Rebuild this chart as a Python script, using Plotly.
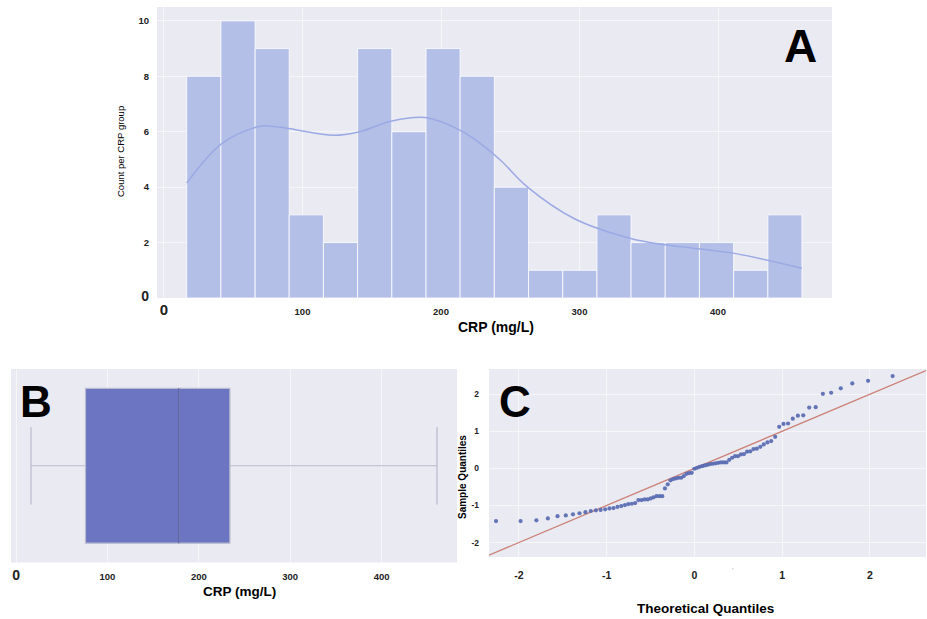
import plotly.graph_objects as go

# ---------------- data ----------------
# Panel A: histogram of CRP (mg/L)
bin_edges = [16.4, 41.1, 65.8, 90.4, 115.1, 139.8, 164.5, 189.2, 213.8, 238.5,
             263.2, 287.9, 312.6, 337.2, 361.9, 386.6, 411.3, 436.0, 460.6]
bin_counts = [8, 10, 9, 3, 2, 9, 6, 9, 8, 4, 1, 1, 3, 2, 2, 2, 1, 3]

# KDE curve
kde_x = [16.4, 41.7, 67.0, 75.4, 91.0, 122.4, 140.5, 164.6, 188.7, 214.0, 228.5,
         243.0, 262.3, 296.0, 337.0, 363.5, 411.7, 460.6]
kde_y = [4.15, 5.57, 6.17, 6.21, 6.11, 5.87, 5.99, 6.39, 6.51, 6.05, 5.57,
         4.97, 4.01, 2.87, 2.15, 1.91, 1.61, 1.07]

# Panel B: box plot statistics
box_min = 16.4
box_q1 = 76.0
box_median = 178.0
box_q3 = 234.0
box_max = 460.6

# Panel C: Q-Q plot
qq_theoretical = [
    -2.26, -1.98, -1.80, -1.669, -1.559, -1.465, -1.383, -1.309, -1.241, -1.180,
    -1.122, -1.068, -1.016, -0.967, -0.921, -0.876, -0.833, -0.791, -0.752, -0.712,
    -0.674, -0.637, -0.601, -0.566, -0.531, -0.497, -0.464, -0.431, -0.398, -0.366,
    -0.335, -0.303, -0.272, -0.241, -0.210, -0.180, -0.150, -0.120, -0.090, -0.060,
    -0.030, 0.0, 0.030, 0.060, 0.090, 0.120, 0.150, 0.180, 0.210, 0.241,
    0.272, 0.303, 0.335, 0.366, 0.398, 0.431, 0.464, 0.497, 0.531, 0.566,
    0.601, 0.637, 0.674, 0.712, 0.752, 0.791, 0.833, 0.876, 0.921, 0.967,
    1.016, 1.068, 1.122, 1.180, 1.241, 1.309, 1.383, 1.465, 1.559, 1.669,
    1.80, 1.98, 2.26]
qq_sample = [
    -1.42, -1.42, -1.40, -1.35, -1.29, -1.27, -1.24, -1.21,
    -1.18, -1.15, -1.13, -1.12, -1.105, -1.08, -1.07, -1.04, -1.016, -0.99,
    -0.962, -0.954, -0.935, -0.854, -0.854, -0.836, -0.836, -0.81, -0.78,
    -0.75, -0.75, -0.75,
    -0.54, -0.43,
    -0.323, -0.288, -0.27, -0.253, -0.253, -0.208, -0.146, -0.127, -0.12,
    -0.01, 0.016, 0.043, 0.06, 0.08, 0.097,
    0.116, 0.125, 0.135, 0.15, 0.16, 0.16, 0.16, 0.23, 0.286,
    0.33, 0.33, 0.377, 0.385, 0.45, 0.46, 0.52, 0.53,
    0.58, 0.647, 0.70, 0.736,
    0.85, 1.12, 1.20, 1.21, 1.34, 1.42, 1.43, 1.64, 1.65, 2.01, 2.04, 2.16,
    2.29, 2.36, 2.49]
ref_line = [-2.34, 2.64]

hist_ticks = [0, 100, 200, 300, 400]
count_ticks = [0, 2, 4, 6, 8, 10]
qq_ticks = [-2, -1, 0, 1, 2]

# ---------------- helpers ----------------
W, H = 927, 619
FONT = "Liberation Sans, Arial, sans-serif"
BG = "#eaeaf2"
GRID = "rgba(255,255,255,0.55)"


def px(x):
    return x / W


def py(y):
    return 1 - y / H


def ticktext(vals, big_zero=None):
    out = []
    for v in vals:
        if v == 0 and big_zero:
            out.append('<b><span style="font-size:%dpx">0</span></b>' % big_zero)
        else:
            out.append("<b>%s</b>" % v)
    return out


centers = [(a + b) / 2 for a, b in zip(bin_edges[:-1], bin_edges[1:])]
widths = [b - a for a, b in zip(bin_edges[:-1], bin_edges[1:])]

fig = go.Figure()

# Panel A
fig.add_trace(go.Bar(x=centers, y=bin_counts, width=widths,
                     marker=dict(color="rgb(180,191,232)",
                                 line=dict(color="rgba(255,255,255,0.8)", width=1)),
                     xaxis="x", yaxis="y", showlegend=False, hoverinfo="skip"))
fig.add_trace(go.Scatter(x=kde_x, y=kde_y, mode="lines",
                         line=dict(color="rgb(155,170,228)", width=1.5, shape="spline", smoothing=1.0),
                         xaxis="x", yaxis="y", showlegend=False, hoverinfo="skip"))

# Panel B
fig.add_trace(go.Box(y=[0], q1=[box_q1], median=[box_median], q3=[box_q3],
                     lowerfence=[box_min], upperfence=[box_max], orientation="h",
                     width=0.8, whiskerwidth=0.5,
                     fillcolor="rgb(107,117,193)",
                     line=dict(color="rgb(185,186,205)", width=1.2),
                     xaxis="x2", yaxis="y2", showlegend=False, hoverinfo="skip"))

# Panel C
fig.add_trace(go.Scatter(x=ref_line, y=ref_line, mode="lines",
                         line=dict(color="rgb(203,128,118)", width=1.3),
                         xaxis="x3", yaxis="y3", showlegend=False, hoverinfo="skip"))
fig.add_trace(go.Scatter(x=qq_theoretical, y=qq_sample, mode="markers",
                         marker=dict(color="rgb(85,104,176)", size=4.2, opacity=0.9),
                         xaxis="x3", yaxis="y3", showlegend=False, hoverinfo="skip"))

tf = dict(family=FONT, size=9.5, color="#222")
common = dict(showgrid=True, gridcolor=GRID, gridwidth=1, zeroline=False,
              showline=False, ticks="", automargin=False, tickfont=tf)

fig.update_layout(
    width=W, height=H,
    margin=dict(l=0, r=0, t=0, b=0),
    paper_bgcolor="white", plot_bgcolor=BG,
    font=dict(family=FONT),
    xaxis=dict(domain=[px(157), px(832)], range=[-5.05, 482.3], anchor="y",
               tickvals=hist_ticks, ticktext=ticktext(hist_ticks, 15),
               ticklabelstandoff=6, **common),
    yaxis=dict(domain=[py(298), py(7)], range=[0, 10.5], anchor="x",
               tickvals=count_ticks, ticktext=ticktext(count_ticks, 14),
               ticklabelstandoff=7, **common),
    xaxis2=dict(domain=[px(11), px(457)], range=[-5.5, 482.5], anchor="y2",
                tickvals=hist_ticks, ticktext=ticktext(hist_ticks, 14),
                ticklabelstandoff=7, **common),
    yaxis2=dict(domain=[py(562.5), py(369)], range=[-0.5, 0.5], anchor="x2",
                showticklabels=False, showgrid=False, zeroline=False, automargin=False),
    xaxis3=dict(domain=[px(489), px(926)], range=[-2.34, 2.64], anchor="y3",
                tickvals=qq_ticks, ticktext=ticktext(qq_ticks),
                ticklabelstandoff=10, **{**common, "tickfont": dict(family=FONT, size=10.5, color="#222")}),
    yaxis3=dict(domain=[py(557), py(369)], range=[-2.39, 2.68], anchor="x3",
                tickvals=qq_ticks, ticktext=ticktext(qq_ticks),
                ticklabelstandoff=9, **{**common, "tickfont": dict(family=FONT, size=8.5, color="#222")}),
)

# median line of the box plot
fig.add_shape(type="line", xref="x2", yref="y2 domain", x0=box_median, x1=box_median,
              y0=0.1, y1=0.9, line=dict(color="rgb(95,102,168)", width=1.5))

ann = []


def add_text(text, x, y, size, bold=True, angle=0, color="black"):
    ann.append(dict(text="<b>%s</b>" % text if bold else text, x=px(x), y=py(y),
                    xref="paper", yref="paper", showarrow=False, textangle=angle,
                    font=dict(family=FONT, size=size, color=color),
                    xanchor="center", yanchor="middle"))


add_text("A", 800, 46, 46)
add_text("B", 36, 401, 44)
add_text("C", 515, 401, 44)
add_text("CRP (mg/L)", 496, 327, 14)
add_text("Count per CRP group", 121, 152, 9.5, bold=False, angle=-90)
add_text("CRP (mg/L)", 240, 591, 13.5)
add_text("Theoretical Quantiles", 705, 608, 13.5)
add_text("Sample Quantiles", 462, 477, 10, angle=-90)
add_text("'", 733, 570, 8, bold=False, color="#aaa")
fig.update_layout(annotations=ann)

fig.write_html("out.html")
